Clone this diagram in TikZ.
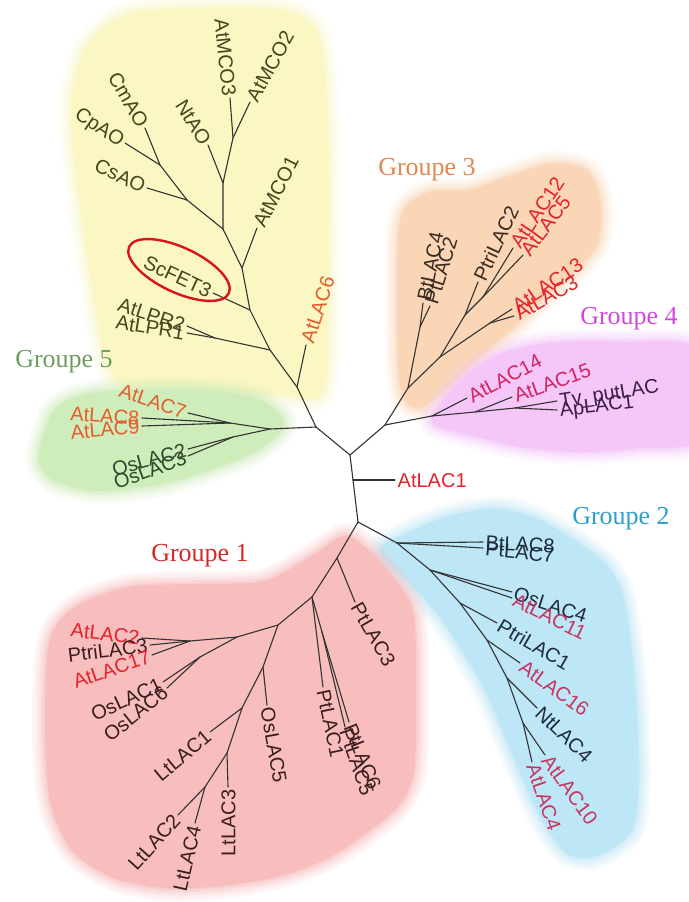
\documentclass[tikz,border=0pt]{standalone}
\usepackage{fontspec}
\setmainfont{Liberation Sans}
\newfontfamily\grpfont{Liberation Serif}
\usetikzlibrary{shapes.geometric}
\definecolor{bgyellow}{HTML}{FAF7C2}
\definecolor{bgorange}{HTML}{FAD6B6}
\definecolor{bgpurple}{HTML}{F5C6F8}
\definecolor{bggreen}{HTML}{CFEDBA}
\definecolor{bgblue}{HTML}{BDE6F6}
\definecolor{bgred}{HTML}{F8BDBD}
\definecolor{treeline}{HTML}{333333}
\definecolor{txolive}{HTML}{45451F}
\definecolor{txorred}{HTML}{E45C2C}
\definecolor{txgreen}{HTML}{2E4A2E}
\definecolor{txbrown}{HTML}{3A2A20}
\definecolor{txred}{HTML}{E4222C}
\definecolor{txmag}{HTML}{D42260}
\definecolor{txpurp}{HTML}{3A1F4A}
\definecolor{txnavy}{HTML}{1E2C3C}
\definecolor{txcrim}{HTML}{C83460}
\definecolor{txdkred}{HTML}{3A1E1E}
\definecolor{ellred}{HTML}{D8141C}
\definecolor{gone}{HTML}{D42A2A}
\definecolor{gtwo}{HTML}{2BA0CF}
\definecolor{gthree}{HTML}{E08850}
\definecolor{gfour}{HTML}{D048E0}
\definecolor{gfive}{HTML}{6E9E5E}
\newcommand\softblob[2]{%
  \draw[#1, line width=26pt, opacity=.12, line join=round] plot[smooth cycle] coordinates {#2};
  \draw[#1, line width=20pt, opacity=.15, line join=round] plot[smooth cycle] coordinates {#2};
  \draw[#1, line width=14pt, opacity=.2, line join=round] plot[smooth cycle] coordinates {#2};
  \draw[#1, line width=8pt, opacity=.3, line join=round] plot[smooth cycle] coordinates {#2};
  \draw[#1, line width=3pt, opacity=.4, line join=round] plot[smooth cycle] coordinates {#2};
  \fill[#1] plot[smooth cycle] coordinates {#2};}
\begin{document}
\begin{tikzpicture}[x=1pt,y=-1pt,
  br/.style={draw=treeline, line width=1.1pt, line cap=round},
  lab/.style={font=\fontsize{20}{24}\selectfont, inner sep=2.5pt, text height=14.5pt, text depth=0pt},
  gl/.style={font=\grpfont\fontsize{26}{30}\selectfont, inner sep=0pt}]
\useasboundingbox (0,0) rectangle (688,902);
\fill[white] (0,0) rectangle (688,902);

% ---------- background blobs ----------
\softblob{bgyellow}{(88,45) (130,14) (220,8) (290,12) (320,42) (328,150) (328,280) (326,375) (316,398) (280,394) (200,390) (124,384) (104,350) (90,270) (76,170) (72,100)}
\softblob{bggreen}{(42,440) (57,407) (100,392) (200,390) (260,400) (284,425) (250,454) (170,482) (100,491) (57,482) (40,465)}
\softblob{bgorange}{(398,240) (406,208) (430,192) (470,190) (510,176) (550,164) (586,170) (600,200) (598,242) (580,266) (550,292) (515,326) (480,356) (446,388) (420,408) (404,398) (398,360)}
\softblob{bgpurple}{(432,420) (447,396) (470,372) (503,353) (550,343) (620,342) (700,350) (700,438) (640,448) (580,452) (522,447) (474,436) (442,428)}
\softblob{bgblue}{(380,552) (402,536) (447,517) (497,509) (537,519) (578,543) (608,567) (625,605) (636,700) (638,790) (630,833) (596,856) (567,853) (542,820) (517,765) (485,690) (446,625) (417,590)}
\softblob{bgred}{(50,640) (77,606) (130,587) (200,584) (265,581) (315,554) (345,536) (370,552) (396,582) (413,612) (416,680) (414,770) (398,806) (366,833) (328,858) (280,876) (220,886) (165,888) (114,878) (72,850) (50,800) (45,720)}

% ---------- tree coordinates ----------
\coordinate (c0) at (350,455);
\coordinate (cA) at (353,480);
\coordinate (c1) at (358,522);
\coordinate (cL) at (316,427);
\coordinate (cR) at (385,425);
\coordinate (t-AtLAC1) at (395,480);
% yellow
\coordinate (y1) at (297,387);
\coordinate (t-AtLAC6) at (306,345);
\coordinate (y2) at (270,350);
\coordinate (y2b) at (215,338);
\coordinate (t-AtLPR2) at (187,326);
\coordinate (t-AtLPR1) at (187,333);
\coordinate (y3) at (250,310);
\coordinate (t-ScFET3) at (213,293);
\coordinate (y4) at (242,268);
\coordinate (t-AtMCO1) at (257,228);
\coordinate (y5) at (223,229);
\coordinate (y6) at (187,200);
\coordinate (t-CsAO) at (147,188);
\coordinate (y7) at (160,165);
\coordinate (t-CpAO) at (125,143);
\coordinate (t-CmAO) at (145,128);
\coordinate (y8) at (223,183);
\coordinate (t-NtAO) at (208,145);
\coordinate (y9) at (233,138);
\coordinate (t-AtMCO3) at (230,98);
\coordinate (t-AtMCO2) at (250,102);
% green
\coordinate (g0) at (270,429);
\coordinate (g1) at (230,423);
\coordinate (g2) at (233,437);
\coordinate (t-AtLAC7) at (188,413);
\coordinate (t-AtLAC8) at (142,418);
\coordinate (t-AtLAC9) at (142,426);
\coordinate (t-OsLAC2) at (188,449);
\coordinate (t-OsLAC3) at (188,456);
% orange
\coordinate (o0) at (408,388);
\coordinate (o1) at (420,327);
\coordinate (t-BtLAC4) at (423,303);
\coordinate (t-PtLAC2) at (430,306);
\coordinate (o2) at (440,357);
\coordinate (o3) at (465,315);
\coordinate (t-PtriLAC2) at (478,282);
\coordinate (o4) at (483,297);
\coordinate (t-AtLAC12) at (513,248);
\coordinate (t-AtLAC5) at (523,255);
\coordinate (o5) at (490,323);
\coordinate (t-AtLAC13) at (512,309);
\coordinate (t-AtLAC3) at (514,316);
% purple
\coordinate (p0) at (432,416);
\coordinate (t-AtLAC14) at (467,398);
\coordinate (p1) at (475,412);
\coordinate (t-AtLAC15) at (512,397);
\coordinate (p2) at (515,408);
\coordinate (t-Tv) at (557,401);
\coordinate (t-ApLAC1) at (557,410);
% blue
\coordinate (b1) at (397,543);
\coordinate (t-BtLAC8) at (483,542);
\coordinate (t-PtLAC7) at (483,548);
\coordinate (b2) at (430,570);
\coordinate (t-OsLAC4) at (512,592);
\coordinate (t-AtLAC11) at (512,598);
\coordinate (b3) at (460,603);
\coordinate (t-PtriLAC1) at (497,623);
\coordinate (b4) at (487,640);
\coordinate (t-AtLAC16) at (520,663);
\coordinate (b5) at (507,678);
\coordinate (t-NtLAC4) at (537,708);
\coordinate (b6) at (523,723);
\coordinate (t-AtLAC10) at (545,755);
\coordinate (t-AtLAC4) at (532,762);
% red
\coordinate (r1) at (337,558);
\coordinate (t-PtLAC3) at (355,602);
\coordinate (r2) at (312,597);
\coordinate (t-PtLAC1) at (323,687);
\coordinate (r2b) at (322,632);
\coordinate (t-PtLAC6) at (349,722);
\coordinate (t-PtLAC5) at (345,727);
\coordinate (r3) at (278,625);
\coordinate (r4) at (237,637);
\coordinate (r5) at (190,641);
\coordinate (t-AtLAC2) at (142,638);
\coordinate (t-PtriLAC3) at (150,645);
\coordinate (t-AtLAC17) at (152,655);
\coordinate (r6) at (200,657);
\coordinate (t-OsLAC1) at (163,682);
\coordinate (t-OsLAC6) at (167,688);
\coordinate (r7) at (263,667);
\coordinate (t-OsLAC5) at (267,705);
\coordinate (r8) at (242,708);
\coordinate (t-LtLAC1) at (210,732);
\coordinate (r9) at (227,753);
\coordinate (t-LtLAC3) at (228,787);
\coordinate (r10) at (205,787);
\coordinate (t-LtLAC2) at (178,815);
\coordinate (t-LtLAC4) at (195,823);

% ---------- branches ----------
\draw[br] (cL) -- (c0) -- (cR);
\draw[br] (c0) -- (cA) -- (c1);
\draw[br] (cA) -- (t-AtLAC1);
% yellow
\draw[br] (cL) -- (y1) -- (y2) -- (y3) -- (y4) -- (y5);
\draw[br] (y1) -- (t-AtLAC6);
\draw[br] (y2) -- (y2b) -- (t-AtLPR2);
\draw[br] (y2b) -- (t-AtLPR1);
\draw[br] (y3) -- (t-ScFET3);
\draw[br] (y4) -- (t-AtMCO1);
\draw[br] (y5) -- (y6) -- (y7) -- (t-CpAO);
\draw[br] (y6) -- (t-CsAO);
\draw[br] (y7) -- (t-CmAO);
\draw[br] (y5) -- (y8) -- (y9) -- (t-AtMCO3);
\draw[br] (y8) -- (t-NtAO);
\draw[br] (y9) -- (t-AtMCO2);
% green
\draw[br] (cL) -- (g0) -- (g1) -- (t-AtLAC8);
\draw[br] (g1) -- (t-AtLAC9);
\draw[br] (g1) -- (t-AtLAC7);
\draw[br] (g0) -- (g2) -- (t-OsLAC2);
\draw[br] (g2) -- (t-OsLAC3);
% orange
\draw[br] (cR) -- (o0) -- (o1) -- (t-BtLAC4);
\draw[br] (o1) -- (t-PtLAC2);
\draw[br] (o0) -- (o2) -- (o3) -- (t-PtriLAC2);
\draw[br] (o3) -- (o4) -- (t-AtLAC12);
\draw[br] (o4) -- (t-AtLAC5);
\draw[br] (o2) -- (o5) -- (t-AtLAC13);
\draw[br] (o5) -- (t-AtLAC3);
% purple
\draw[br] (cR) -- (p0) -- (t-AtLAC14);
\draw[br] (p0) -- (p1) -- (t-AtLAC15);
\draw[br] (p1) -- (p2) -- (t-Tv);
\draw[br] (p2) -- (t-ApLAC1);
% blue
\draw[br] (c1) -- (b1) -- (b2) -- (b3) -- (b4) -- (b5) -- (b6) -- (t-AtLAC4);
\draw[br] (b1) -- (t-BtLAC8);
\draw[br] (b1) -- (t-PtLAC7);
\draw[br] (b2) -- (t-OsLAC4);
\draw[br] (b2) -- (t-AtLAC11);
\draw[br] (b3) -- (t-PtriLAC1);
\draw[br] (b4) -- (t-AtLAC16);
\draw[br] (b5) -- (t-NtLAC4);
\draw[br] (b6) -- (t-AtLAC10);
% red
\draw[br] (c1) -- (r1) -- (r2) -- (r3) -- (r4) -- (r5) -- (t-AtLAC2);
\draw[br] (r1) -- (t-PtLAC3);
\draw[br] (r2) -- (t-PtLAC1);
\draw[br] (r2) -- (r2b) -- (t-PtLAC6);
\draw[br] (r2b) -- (t-PtLAC5);
\draw[br] (r5) -- (t-PtriLAC3);
\draw[br] (r5) -- (t-AtLAC17);
\draw[br] (r4) -- (r6) -- (t-OsLAC1);
\draw[br] (r6) -- (t-OsLAC6);
\draw[br] (r3) -- (r7) -- (r8) -- (r9) -- (r10) -- (t-LtLAC2);
\draw[br] (r7) -- (t-OsLAC5);
\draw[br] (r8) -- (t-LtLAC1);
\draw[br] (r9) -- (t-LtLAC3);
\draw[br] (r10) -- (t-LtLAC4);

% ---------- ScFET3 ring ----------
\node[draw=ellred, line width=2.4pt, ellipse, minimum width=110pt, minimum height=45pt, inner sep=0pt, rotate=-25] (ring) at (179,270) {};

% ---------- labels ----------
\node[lab, text=txred, anchor=west] (L-AtLAC1) at (t-AtLAC1) {AtLAC1};
% yellow
\node[lab, text=txorred, rotate=72, anchor=west] (L-AtLAC6) at (t-AtLAC6) {AtLAC6};
\node[lab, text=txolive, rotate=-18, anchor=east] (L-AtLPR2) at (t-AtLPR2) {AtLPR2};
\node[lab, text=txolive, rotate=-9, anchor=east] (L-AtLPR1) at (t-AtLPR1) {AtLPR1};
\node[lab, text=txolive, rotate=-25, anchor=east] (L-ScFET3) at (t-ScFET3) {ScFET3};
\node[lab, text=txolive, rotate=63, anchor=west] (L-AtMCO1) at (t-AtMCO1) {AtMCO1};
\node[lab, text=txolive, rotate=-25, anchor=east] (L-CsAO) at (t-CsAO) {CsAO};
\node[lab, text=txolive, rotate=-34, anchor=east] (L-CpAO) at (t-CpAO) {CpAO};
\node[lab, text=txolive, rotate=-60, anchor=east] (L-CmAO) at (t-CmAO) {CmAO};
\node[lab, text=txolive, rotate=-58, anchor=east] (L-NtAO) at (t-NtAO) {NtAO};
\node[lab, text=txolive, rotate=-84, anchor=east] (L-AtMCO3) at (t-AtMCO3) {AtMCO3};
\node[lab, text=txolive, rotate=61, anchor=west] (L-AtMCO2) at (t-AtMCO2) {AtMCO2};
% green
\node[lab, text=txorred, rotate=-19, anchor=east] (L-AtLAC7) at (t-AtLAC7) {AtLAC7};
\node[lab, text=txorred, rotate=-4, anchor=east] (L-AtLAC8) at (t-AtLAC8) {AtLAC8};
\node[lab, text=txorred, rotate=5, anchor=east] (L-AtLAC9) at (t-AtLAC9) {AtLAC9};
\node[lab, text=txgreen, rotate=15, anchor=east] (L-OsLAC2) at (t-OsLAC2) {OsLAC2};
\node[lab, text=txgreen, rotate=20, anchor=east] (L-OsLAC3) at (t-OsLAC3) {OsLAC3};
% orange
\node[lab, text=txbrown, rotate=79, anchor=west] (L-BtLAC4) at (t-BtLAC4) {BtLAC4};
\node[lab, text=txbrown, rotate=73, anchor=west] (L-PtLAC2) at (t-PtLAC2) {PtLAC2};
\node[lab, text=txbrown, rotate=65, anchor=west] (L-PtriLAC2) at (t-PtriLAC2) {PtriLAC2};
\node[lab, text=txred, rotate=56, anchor=west] (L-AtLAC12) at (t-AtLAC12) {AtLAC12};
\node[lab, text=txred, rotate=53, anchor=west] (L-AtLAC5) at (t-AtLAC5) {AtLAC5};
\node[lab, text=txred, rotate=34, anchor=west] (L-AtLAC13) at (t-AtLAC13) {AtLAC13};
\node[lab, text=txred, rotate=30, anchor=west] (L-AtLAC3) at (t-AtLAC3) {AtLAC3};
% purple
\node[lab, text=txmag, rotate=28, anchor=west] (L-AtLAC14) at (t-AtLAC14) {AtLAC14};
\node[lab, text=txmag, rotate=20, anchor=west] (L-AtLAC15) at (t-AtLAC15) {AtLAC15};
\node[lab, text=txpurp, rotate=9, anchor=west] (L-Tv) at (t-Tv) {Tv\_putLAC};
\node[lab, text=txpurp, rotate=7, anchor=west] (L-ApLAC1) at (t-ApLAC1) {ApLAC1};
% blue
\node[lab, text=txnavy, rotate=-3, anchor=west] (L-BtLAC8) at (t-BtLAC8) {BtLAC8};
\node[lab, text=txnavy, rotate=-6, anchor=west] (L-PtLAC7) at (t-PtLAC7) {PtLAC7};
\node[lab, text=txnavy, rotate=-18, anchor=west] (L-OsLAC4) at (t-OsLAC4) {OsLAC4};
\node[lab, text=txcrim, rotate=-26, anchor=west] (L-AtLAC11) at (t-AtLAC11) {AtLAC11};
\node[lab, text=txnavy, rotate=-30, anchor=west] (L-PtriLAC1) at (t-PtriLAC1) {PtriLAC1};
\node[lab, text=txcrim, rotate=-36, anchor=west] (L-AtLAC16) at (t-AtLAC16) {AtLAC16};
\node[lab, text=txnavy, rotate=-44, anchor=west] (L-NtLAC4) at (t-NtLAC4) {NtLAC4};
\node[lab, text=txcrim, rotate=-54, anchor=west] (L-AtLAC10) at (t-AtLAC10) {AtLAC10};
\node[lab, text=txcrim, rotate=-71, anchor=west] (L-AtLAC4) at (t-AtLAC4) {AtLAC4};
% red
\node[lab, text=txdkred, rotate=-60, anchor=west] (L-PtLAC3) at (t-PtLAC3) {PtLAC3};
\node[lab, text=txdkred, rotate=-78, anchor=west] (L-PtLAC1) at (t-PtLAC1) {PtLAC1};
\node[lab, text=txdkred, rotate=-68, anchor=west] (L-PtLAC6) at (t-PtLAC6) {PtLAC6};
\node[lab, text=txdkred, rotate=-71, anchor=west] (L-PtLAC5) at (t-PtLAC5) {PtLAC5};
\node[lab, text=txred, rotate=-7, anchor=east] (L-AtLAC2) at (t-AtLAC2) {AtLAC2};
\node[lab, text=txdkred, rotate=7, anchor=east] (L-PtriLAC3) at (t-PtriLAC3) {PtriLAC3};
\node[lab, text=txred, rotate=19, anchor=east] (L-AtLAC17) at (t-AtLAC17) {AtLAC17};
\node[lab, text=txdkred, rotate=25, anchor=east] (L-OsLAC1) at (t-OsLAC1) {OsLAC1};
\node[lab, text=txdkred, rotate=39, anchor=east] (L-OsLAC6) at (t-OsLAC6) {OsLAC6};
\node[lab, text=txdkred, rotate=-80, anchor=west] (L-OsLAC5) at (t-OsLAC5) {OsLAC5};
\node[lab, text=txdkred, rotate=40, anchor=east] (L-LtLAC1) at (t-LtLAC1) {LtLAC1};
\node[lab, text=txdkred, rotate=90, anchor=east] (L-LtLAC3) at (t-LtLAC3) {LtLAC3};
\node[lab, text=txdkred, rotate=48, anchor=east] (L-LtLAC2) at (t-LtLAC2) {LtLAC2};
\node[lab, text=txdkred, rotate=77, anchor=east] (L-LtLAC4) at (t-LtLAC4) {LtLAC4};

% ---------- group titles ----------
\node[gl, text=gone] (G1) at (200,556) {Groupe 1};
\node[gl, text=gtwo] (G2) at (621,519) {Groupe 2};
\node[gl, text=gthree] (G3) at (427,170) {Groupe 3};
\node[gl, text=gfour] (G4) at (629,319) {Groupe 4};
\node[gl, text=gfive] (G5) at (64,362) {Groupe 5};
\end{tikzpicture}
\end{document}
